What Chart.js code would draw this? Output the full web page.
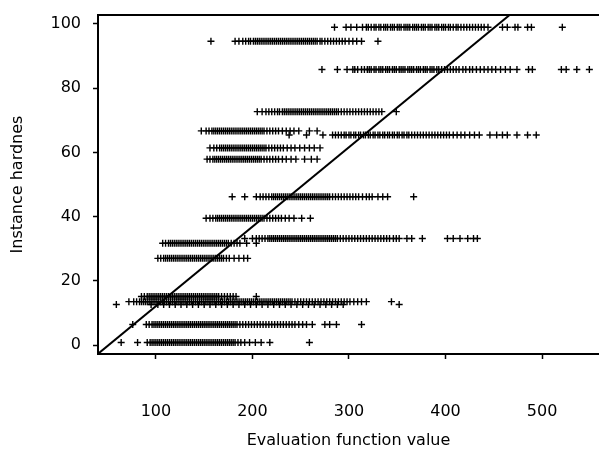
<!DOCTYPE html>
<html>
<head>
<meta charset="utf-8">
<script src="https://cdn.jsdelivr.net/npm/chart.js@4/dist/chart.umd.min.js"></script>
<style>
  html, body { margin: 0; padding: 0; background: #fff; }
  #wrap { width: 599px; height: 452px; }
</style>
</head>
<body>
<div id="wrap"><canvas id="c" width="599" height="452"></canvas></div>
<script>
// Hardness levels (y) and the evaluation function values (x) observed at each level
const hardnessLevels = [99.0, 94.6, 85.8, 72.7, 66.7, 65.4, 61.4, 57.9, 46.2, 39.5, 33.2, 31.7, 27.0, 15.1, 13.5, 12.6, 6.4, 0.8];

const evalH99 = [285, 297, 302, 308, 314, 318, 320, 323, 326, 328, 331, 333, 336, 338, 340, 343, 345, 347, 350, 352, 354, 357, 359, 361, 363, 366, 368, 370, 372, 375, 377, 379, 382, 384, 386, 389, 391, 393, 396, 398, 400, 403, 405, 408, 411, 413, 416, 419, 422, 425, 428, 431, 434, 437, 440, 444, 459, 464, 472, 475, 485, 489, 521];
const evalH95 = [157, 182, 186, 190, 193, 196, 198, 201, 203, 205, 207, 209, 211, 213, 215, 217, 219, 221, 223, 225, 227, 229, 231, 233, 235, 237, 239, 241, 243, 245, 247, 249, 251, 253, 255, 257, 259, 261, 263, 265, 267, 270, 272, 275, 278, 281, 284, 287, 290, 293, 296, 300, 304, 308, 313, 330];
const evalH86 = [272, 288, 298, 304, 306, 309, 313, 316, 319, 321, 323, 326, 328, 331, 333, 335, 338, 340, 342, 345, 347, 349, 352, 354, 356, 358, 361, 363, 365, 367, 370, 372, 374, 377, 379, 381, 384, 386, 388, 391, 393, 396, 399, 402, 405, 408, 411, 414, 418, 421, 425, 428, 432, 436, 440, 444, 448, 452, 457, 462, 467, 474, 486, 490, 520, 525, 536, 549];
const evalH73 = [205, 210, 214, 217, 220, 223, 226, 228, 231, 233, 235, 237, 239, 241, 243, 245, 247, 249, 251, 253, 255, 257, 259, 261, 263, 265, 267, 269, 271, 273, 275, 277, 279, 281, 283, 285, 287, 289, 292, 295, 298, 301, 304, 307, 310, 313, 316, 319, 322, 325, 328, 331, 334, 349];
const evalH67 = [147, 152, 155, 158, 160, 162, 164, 166, 168, 170, 172, 174, 176, 178, 180, 182, 184, 186, 188, 190, 192, 194, 196, 198, 200, 202, 204, 206, 208, 210, 212, 215, 218, 221, 224, 227, 231, 235, 239, 243, 248, 259, 267];
const evalH65 = [238, 256, 273, 283, 286, 289, 292, 295, 297, 300, 302, 305, 307, 310, 312, 315, 317, 320, 322, 325, 327, 330, 332, 335, 337, 340, 342, 345, 347, 350, 352, 355, 357, 360, 362, 365, 368, 371, 374, 377, 380, 383, 386, 389, 392, 395, 398, 401, 404, 408, 412, 416, 420, 425, 430, 435, 446, 453, 459, 464, 474, 485, 494];
const evalH61 = [156, 160, 163, 166, 168, 170, 172, 174, 176, 178, 180, 182, 184, 186, 188, 190, 192, 194, 196, 198, 200, 202, 204, 206, 208, 210, 212, 214, 217, 220, 223, 226, 229, 232, 236, 240, 244, 249, 254, 259, 264, 270];
const evalH58 = [153, 156, 159, 161, 163, 165, 167, 169, 171, 173, 175, 177, 179, 181, 183, 185, 187, 189, 191, 193, 195, 197, 199, 201, 203, 205, 207, 209, 212, 215, 218, 221, 224, 227, 231, 235, 240, 245, 254, 261, 267];
const evalH46 = [179, 192, 204, 208, 211, 214, 217, 220, 222, 224, 226, 228, 230, 232, 234, 236, 238, 240, 242, 244, 246, 248, 250, 252, 254, 256, 258, 260, 262, 264, 266, 268, 270, 272, 274, 276, 278, 280, 283, 286, 289, 292, 295, 298, 301, 304, 307, 310, 314, 318, 321, 324, 330, 335, 340, 367];
const evalH40 = [152, 156, 159, 162, 164, 166, 168, 170, 172, 174, 176, 178, 180, 182, 184, 186, 188, 190, 192, 194, 196, 198, 200, 202, 204, 206, 208, 210, 212, 215, 218, 221, 224, 227, 230, 234, 238, 243, 251, 260];
const evalH33 = [192, 200, 204, 207, 210, 213, 216, 218, 220, 222, 224, 226, 228, 230, 232, 234, 236, 238, 240, 242, 244, 246, 248, 250, 252, 254, 256, 258, 260, 262, 264, 266, 268, 270, 272, 274, 276, 278, 280, 282, 284, 286, 288, 291, 294, 297, 300, 303, 306, 309, 312, 315, 318, 321, 324, 327, 330, 333, 336, 339, 342, 346, 349, 352, 360, 365, 376, 402, 408, 415, 423, 429, 433];
const evalH32 = [107, 110, 113, 115, 117, 119, 121, 123, 125, 127, 129, 131, 133, 135, 137, 139, 141, 143, 145, 147, 149, 151, 153, 155, 157, 159, 161, 163, 165, 167, 169, 171, 173, 175, 178, 181, 184, 187, 194, 204];
const evalH27 = [102, 105, 108, 110, 112, 114, 116, 118, 120, 122, 124, 126, 128, 130, 132, 134, 136, 138, 140, 142, 144, 146, 148, 150, 152, 154, 156, 158, 160, 162, 164, 166, 168, 170, 173, 176, 181, 186, 191, 195];
const evalH15 = [85, 88, 91, 93, 95, 97, 99, 101, 103, 105, 107, 109, 111, 113, 115, 117, 119, 121, 123, 125, 127, 129, 131, 133, 135, 137, 139, 141, 143, 145, 147, 149, 151, 153, 155, 157, 159, 161, 163, 165, 168, 171, 174, 177, 180, 183, 204];
const evalH14 = [72, 77, 80, 83, 85, 87, 89, 91, 93, 95, 97, 99, 101, 103, 105, 107, 109, 111, 113, 115, 117, 119, 121, 123, 125, 127, 129, 131, 133, 135, 137, 139, 141, 143, 145, 147, 149, 151, 153, 155, 157, 159, 161, 163, 165, 167, 169, 171, 173, 175, 177, 179, 181, 183, 185, 187, 189, 191, 193, 195, 197, 199, 201, 203, 205, 207, 209, 211, 213, 215, 217, 219, 221, 223, 225, 227, 229, 231, 233, 235, 237, 239, 241, 244, 247, 250, 253, 256, 259, 262, 265, 268, 271, 274, 277, 280, 283, 286, 289, 292, 295, 298, 301, 305, 309, 313, 318, 344];
const evalH13 = [59, 95, 102, 108, 114, 120, 126, 132, 138, 144, 150, 156, 162, 168, 174, 180, 186, 192, 198, 204, 210, 216, 222, 228, 234, 240, 246, 252, 258, 264, 270, 276, 282, 288, 294, 352];
const evalH6 = [76, 90, 93, 96, 98, 100, 102, 104, 106, 108, 110, 112, 114, 116, 118, 120, 122, 124, 126, 128, 130, 132, 134, 136, 138, 140, 142, 144, 146, 148, 150, 152, 154, 156, 158, 160, 162, 164, 166, 168, 170, 172, 174, 176, 178, 180, 182, 184, 187, 190, 193, 196, 199, 202, 205, 208, 211, 214, 217, 220, 223, 226, 229, 232, 235, 238, 241, 244, 248, 252, 256, 262, 275, 280, 287, 313];
const evalH1 = [64, 81, 91, 94, 96, 98, 100, 102, 104, 106, 108, 110, 112, 114, 116, 118, 120, 122, 124, 126, 128, 130, 132, 134, 136, 138, 140, 142, 144, 146, 148, 150, 152, 154, 156, 158, 160, 162, 164, 166, 168, 170, 172, 174, 176, 178, 180, 182, 185, 188, 192, 197, 203, 209, 218, 259];

const evalByLevel = [evalH99, evalH95, evalH86, evalH73, evalH67, evalH65, evalH61, evalH58, evalH46, evalH40, evalH33, evalH32, evalH27, evalH15, evalH14, evalH13, evalH6, evalH1];

// Straight reference line through the cloud
const fitX = [40, 470];
const fitY = [-2.75, 103.7];

// Axis ticks
const xTickValues = [100, 200, 300, 400, 500];
const yTickValues = [0, 20, 40, 60, 80, 100];

const points = [];
hardnessLevels.forEach((h, i) => {
  evalByLevel[i].forEach(v => points.push({ x: v, y: h }));
});
const fitLine = fitX.map((x, i) => ({ x: x, y: fitY[i] }));

const FONT = { family: 'DejaVu Sans', size: 16 };

// Top edge of the plotting frame
const frameTop = {
  id: 'frameTop',
  afterDatasetsDraw(chart) {
    const { ctx, chartArea: a } = chart;
    ctx.save();
    ctx.strokeStyle = '#000';
    ctx.lineWidth = 2;
    ctx.beginPath();
    ctx.moveTo(a.left - 1, a.top);
    ctx.lineTo(a.right, a.top);
    ctx.stroke();
    ctx.restore();
  }
};

// Fixed axis box sizes, no extra label overhang padding
function fixBox(size, horizontal) {
  return s => {
    if (horizontal) s.height = size; else s.width = size;
    s.paddingTop = 0; s.paddingBottom = 0; s.paddingLeft = 0; s.paddingRight = 0;
  };
}

new Chart(document.getElementById('c'), {
  type: 'scatter',
  data: {
    datasets: [
      {
        data: points,
        pointStyle: 'cross',
        pointRadius: 3.5,
        pointBorderWidth: 1.4,
        pointBorderColor: '#000',
        pointBackgroundColor: '#000',
        showLine: false
      },
      {
        data: fitLine,
        showLine: true,
        pointRadius: 0,
        borderColor: '#000',
        borderWidth: 2,
        fill: false
      }
    ]
  },
  options: {
    responsive: false,
    devicePixelRatio: 1,
    animation: false,
    events: [],
    layout: { autoPadding: false, padding: { top: 15, left: 0, right: 0, bottom: 0 } },
    plugins: {
      legend: { display: false },
      tooltip: { enabled: false }
    },
    scales: {
      x: {
        type: 'linear',
        min: 40,
        max: 559,
        afterBuildTicks: s => { s.ticks = xTickValues.map(v => ({ value: v })); },
        afterFit: fixBox(98, true),
        grid: { drawOnChartArea: false, drawTicks: true, tickLength: 5, tickColor: '#000', tickWidth: 1.5 },
        border: { display: true, color: '#000', width: 2 },
        ticks: { color: '#000', font: FONT, padding: 43, maxRotation: 0 },
        title: { display: true, text: 'Evaluation function value', color: '#000', font: FONT, padding: { top: 0, bottom: 2 } }
      },
      y: {
        type: 'linear',
        min: -2.8,
        max: 102.8,
        afterBuildTicks: s => { s.ticks = yTickValues.map(v => ({ value: v })); },
        afterFit: fixBox(98, false),
        grid: { drawOnChartArea: false, drawTicks: true, tickLength: 5, tickColor: '#000', tickWidth: 1.5 },
        border: { display: true, color: '#000', width: 2 },
        ticks: { color: '#000', font: FONT, padding: 12 },
        title: { display: true, text: 'Instance hardnes', color: '#000', font: FONT, padding: { top: 8, bottom: 0 } }
      }
    }
  },
  plugins: [frameTop]
});
</script>
</body>
</html>
